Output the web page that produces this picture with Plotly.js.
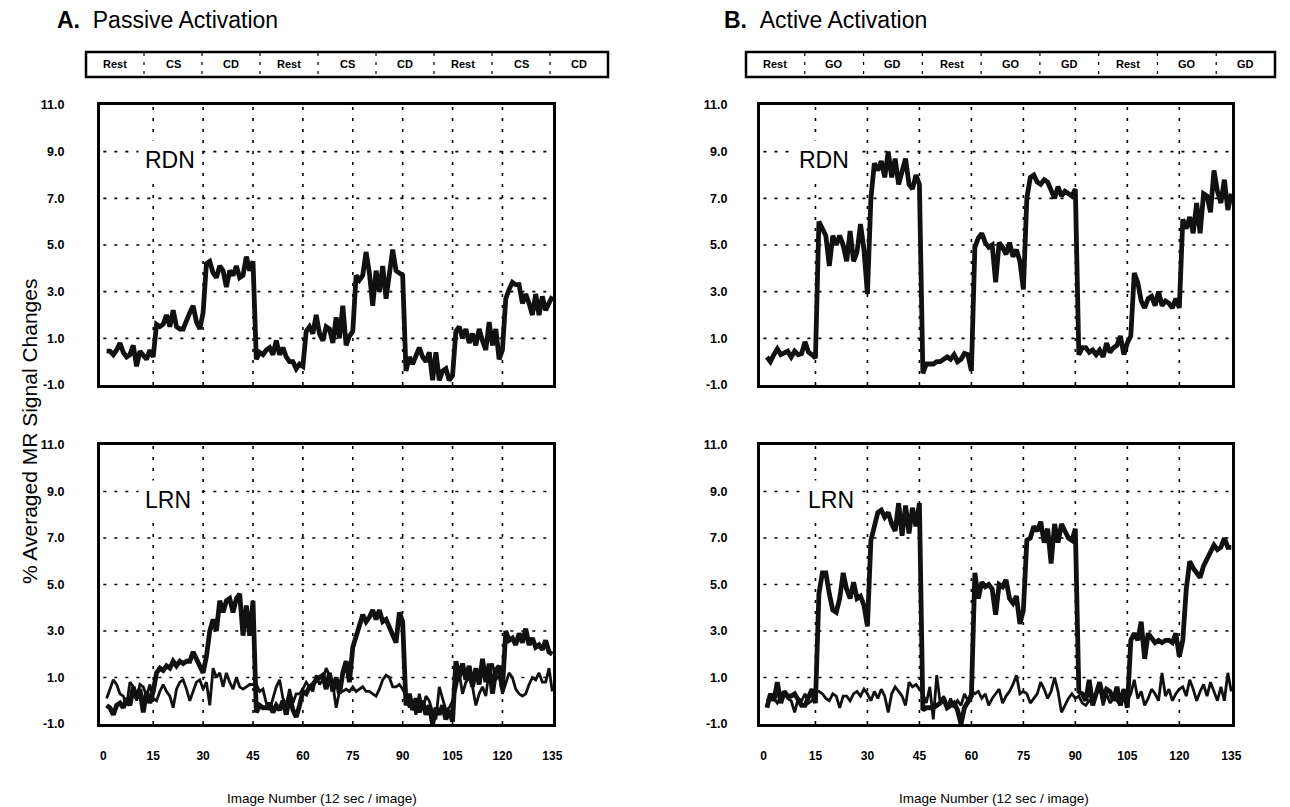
<!DOCTYPE html>
<html><head><meta charset="utf-8">
<script src="https://cdn.plot.ly/plotly-3.0.1.min.js"></script>
<style>html,body{margin:0;padding:0;background:#fff}#chart{width:1290px;height:807px}</style>
</head><body><div id="chart"></div>
<script>
// ---------- data ----------
const yTicks = [-1, 1, 3, 5, 7, 9, 11];
const yTickText = ['-1.0', '1.0', '3.0', '5.0', '7.0', '9.0', '11.0'];
const xTicks = [0, 15, 30, 45, 60, 75, 90, 105, 120, 135];
const xGrid = [15, 30, 45, 60, 75, 90, 105, 120];
const yGrid = [1, 3, 5, 7, 9];
const passiveBlocks = ['Rest', 'CS', 'CD', 'Rest', 'CS', 'CD', 'Rest', 'CS', 'CD'];
const activeBlocks = ['Rest', 'GO', 'GD', 'Rest', 'GO', 'GD', 'Rest', 'GO', 'GD'];

// Passive activation, RDN (image 1..135)
const passiveRDN = [
 0.45, 0.45, 0.3, 0.5, 0.8, 0.4, 0.2, 0.3, 0.7, -0.2, 0.45, 0.3, 0.1, 0.5, 0.2,
 1.6, 1.5, 1.6, 2.0, 1.5, 2.2, 1.5, 1.4, 1.4, 1.8, 2.1, 2.4, 1.7, 1.4, 2.1,
 4.2, 4.3, 3.8, 3.6, 4.1, 3.9, 3.2, 3.9, 3.7, 4.1, 3.6, 3.7, 4.5, 3.9, 4.3,
 0.1, 0.4, 0.3, 0.5, 0.6, 0.3, 0.9, 0.3, 0.6, 0.2, 0.0, 0.0, -0.3, -0.1, -0.2,
 1.3, 1.5, 1.2, 2.0, 1.2, 0.9, 1.5, 1.4, 0.8, 1.9, 1.0, 2.4, 0.7, 1.1, 1.3,
 3.7, 3.5, 3.7, 4.7, 3.8, 2.4, 3.9, 3.0, 4.1, 2.7, 3.6, 4.8, 3.9, 3.8, 3.7,
 -0.4, 0.2, -0.1, 0.3, 0.6, 0.2, 0.0, 0.4, -0.8, 0.4, -0.8, -0.4, -0.3, -0.8, -0.6,
 1.3, 1.5, 1.0, 1.4, 0.8, 1.2, 0.7, 1.4, 0.9, 0.5, 1.7, 0.7, 1.4, 0.1, 0.5,
 2.7, 3.1, 3.4, 3.3, 3.3, 2.5, 2.9, 2.5, 2.0, 2.9, 2.0, 2.8, 2.2, 2.5, 2.8
];
// Active activation, RDN
const activeRDN = [
 0.2, 0.0, 0.3, 0.55, 0.3, 0.4, 0.45, 0.2, 0.45, 0.3, 0.35, 0.85, 0.4, 0.3, 0.15,
 6.0, 5.7, 5.4, 4.1, 5.4, 5.0, 5.4, 5.0, 4.3, 5.6, 4.3, 4.7, 5.9, 4.8, 2.9,
 7.0, 8.5, 8.2, 8.6, 7.9, 9.0, 7.9, 8.7, 7.6, 8.1, 8.7, 7.6, 7.4, 8.0, 7.6,
 -0.5, -0.1, -0.1, -0.1, 0.0, 0.0, 0.1, 0.2, 0.1, 0.3, 0.0, 0.1, 0.35, 0.3, -0.4,
 4.9, 5.3, 5.5, 5.1, 4.9, 5.0, 3.4, 5.1, 4.9, 4.6, 5.1, 4.5, 4.8, 4.3, 3.1,
 7.0, 7.9, 8.0, 7.7, 7.6, 7.8, 7.7, 7.3, 7.0, 7.5, 7.1, 7.3, 7.2, 7.1, 7.4,
 0.3, 0.6, 0.6, 0.4, 0.5, 0.3, 0.5, 0.2, 0.8, 0.4, 0.6, 0.7, 1.1, 0.3, 0.8,
 1.1, 3.8, 3.4, 2.6, 2.3, 2.7, 2.8, 2.4, 3.0, 2.4, 2.6, 2.5, 2.3, 2.7, 2.3,
 6.1, 5.7, 6.2, 5.5, 6.8, 5.5, 7.2, 7.1, 6.4, 8.2, 7.3, 6.8, 7.8, 6.5, 7.2
];
// Passive activation, LRN (thick = activated, thin = control)
const passiveLRN = [
 -0.2, -0.3, -0.6, -0.2, -0.1, -0.3, 0.1, -0.2, 0.6, 0.1, 0.5, -0.5, 0.4, -0.1, 0.4,
 1.2, 1.4, 1.3, 1.5, 1.4, 1.7, 1.5, 1.7, 1.6, 1.7, 1.7, 2.1, 1.8, 1.5, 1.2,
 1.9, 3.0, 3.5, 3.0, 4.3, 3.8, 4.3, 4.4, 3.8, 4.4, 4.6, 2.8, 4.1, 2.8, 4.3,
 -0.5, -0.2, -0.3, -0.3, -0.1, -0.5, -0.2, -0.4, 0.0, -0.6, 0.2, -0.4, -0.7, -0.2, 0.4,
 0.3, 0.6, 0.7, 0.9, 1.0, 1.1, 0.5, 1.2, 0.4, 1.0, 0.3, 1.2, 1.7, 0.8, 2.3,
 2.8, 3.2, 3.7, 3.4, 3.6, 3.9, 3.5, 3.9, 3.4, 3.5, 3.2, 2.9, 2.5, 3.8, 3.4,
 -0.2, 0.3, -0.4, 0.1, -0.5, 0.0, -0.6, -0.2, -1.0, -0.3, -0.6, -0.2, -0.8, -0.4, -0.9,
 1.7, 1.0, 1.6, 0.9, 1.5, 0.6, 1.4, 0.7, 1.8, 0.8, 1.6, 0.3, 1.3, 1.5, 0.5,
 3.0, 2.6, 2.7, 2.4, 2.9, 2.5, 3.1, 2.4, 2.7, 2.3, 2.4, 2.2, 2.6, 2.1, 2.0
];
const passiveLRNControl = [
 0.1, 0.5, 0.9, 0.7, 0.3, 0.2, -0.2, 0.8, 0.6, 0.0, 0.7, 0.6, 0.2, 0.7, 0.1,
 0.0, 0.4, 0.7, 0.4, 0.2, -0.3, 0.5, 0.8, 0.9, 0.5, 0.0, 0.4, 0.8, 0.9, 0.5,
 0.8, -0.2, 1.4, 1.0, 1.2, 0.6, 1.2, 0.8, 0.5, 1.0, 0.6, 0.5, 0.6, 0.7, 0.7,
 0.7, 0.4, 0.5, -0.1, -0.4, 0.1, 0.6, 0.9, 0.1, -0.2, 0.5, -0.1, 0.3, 0.3, 0.5,
 0.8, 0.6, 0.4, 1.1, 0.7, 0.9, 1.4, 1.1, 0.7, -0.3, 0.4, 0.4, 0.5, 0.4, 0.6,
 0.4, 0.5, 0.6, 0.4, 0.4, 0.3, 0.2, 0.5, 0.9, 1.1, 1.0, 0.6, 0.6, 0.7, 0.5,
 0.2, -0.3, 0.0, -0.6, 0.3, -0.4, 0.2, 0.0, -0.5, -0.8, 0.6, 0.1, -0.4, -0.3, 0.0,
 0.5, 1.2, 0.3, 0.8, 1.0, 0.6, -0.2, 0.3, 0.6, 0.2, 1.3, 1.6, 0.9, 1.1, 0.3,
 0.8, 1.2, 1.0, 0.5, 0.3, 0.2, 0.3, 0.7, 1.0, 0.9, 1.2, 0.8, 0.8, 1.4, 0.4
];
// Active activation, LRN
const activeLRN = [
 -0.3, 0.3, 0.0, 0.8, -0.1, 0.4, 0.2, 0.2, 0.3, 0.0, -0.2, -0.2, 0.2, 0.5, -0.1,
 4.6, 5.5, 5.5, 4.6, 3.9, 3.8, 4.4, 5.5, 4.8, 4.4, 5.1, 4.4, 4.5, 4.1, 3.2,
 6.9, 7.6, 8.1, 8.2, 7.9, 8.1, 7.6, 7.3, 8.5, 7.1, 8.4, 7.2, 8.3, 7.5, 8.5,
 -0.4, -0.3, -0.3, -0.3, -0.2, -0.1, 0.1, -0.3, -0.2, -0.1, -0.4, -1.0, -0.3, 0.0, 0.2,
 5.5, 4.4, 5.1, 4.9, 5.0, 4.8, 3.7, 5.0, 4.9, 5.2, 4.4, 4.2, 4.5, 3.3, 3.9,
 6.9, 7.0, 7.5, 7.3, 7.7, 6.8, 7.4, 5.9, 7.6, 6.8, 7.6, 7.3, 7.0, 6.9, 7.4,
 0.4, 0.3, 0.0, 0.9, -0.2, 0.3, 0.8, 0.1, 0.5, 0.4, 0.0, 0.6, -0.2, 0.5, -0.3,
 2.6, 2.9, 2.6, 3.4, 1.8, 2.9, 2.7, 2.5, 2.6, 2.5, 2.6, 2.6, 2.5, 2.9, 1.9,
 2.6, 4.8, 6.0, 5.7, 5.5, 5.3, 5.8, 6.1, 6.4, 6.7, 6.5, 6.6, 7.0, 6.6, 6.6
];
const activeLRNControl = [
 0.0, 0.2, 0.1, -0.1, 0.2, 0.3, 0.1, 0.0, -0.5, 0.1, 0.0, 0.3, -0.1, 0.0, 0.4,
 0.4, 0.3, 0.1, 0.0, 0.3, 0.2, -0.3, 0.2, 0.2, 0.0, 0.3, 0.4, 0.2, 0.5, 0.3,
 0.0, 0.4, 0.1, 0.5, 0.2, -0.5, 0.3, 0.6, 0.4, 0.2, -0.2, 0.8, 0.6, 0.7, 0.5,
 0.3, -0.1, 0.6, -0.8, 1.1, -0.1, 0.2, -0.3, 0.1, -0.3, 0.0, -0.2, 0.3, 0.0, 0.4,
 0.3, 0.4, 0.1, 0.3, -0.2, 0.1, 0.3, 0.5, -0.1, 0.2, 0.4, 0.7, 1.1, 0.3, 0.4,
 0.3, -0.1, 0.1, 0.3, 0.8, 0.5, 0.1, 0.4, 1.0, 0.4, -0.5, -0.2, 0.1, 0.3, 0.1,
 0.2, -0.1, -0.2, 0.0, -0.1, 0.3, 0.6, -0.2, 0.3, -0.1, 0.1, 0.0, -0.2, 0.5, 0.0,
 0.3, 0.9, 0.1, 0.4, -0.2, 0.1, 0.5, 0.3, 0.0, 1.2, 0.2, 0.5, 0.0, 0.3, 0.5,
 0.6, 0.2, 0.9, 0.5, 0.0, 0.4, 0.7, 0.2, 0.8, 0.4, 0.0, 0.6, 0.0, 1.2, 0.4
];

// ---------- layout geometry (pixels) ----------
const W = 1290, H = 807;
const px = v => v / W, py = v => 1 - v / H;
const FONT = 'Liberation Sans, Arial, Helvetica, sans-serif';
const colL = [100, 553], colR = [760, 1232];
const rowT = [105, 385], rowB = [445, 724];
const condBoxes = [
  {x0: 86, x1: 608, labels: passiveBlocks},
  {x0: 746, x1: 1275, labels: activeBlocks}
];
const condY = [52, 77];

const imgIdx = arr => arr.map((_, i) => i + 1);

function line(y, ax, w) {
  return {x: imgIdx(y), y: y, xaxis: ax[0], yaxis: ax[1], type: 'scatter', mode: 'lines',
    line: {color: '#111', width: w, shape: 'linear'}, hoverinfo: 'skip', showlegend: false};
}
const data = [
  line(passiveRDN, ['x', 'y'], 4.8),
  line(activeRDN, ['x2', 'y2'], 4.8),
  line(passiveLRNControl, ['x3', 'y3'], 2.8),
  line(passiveLRN, ['x3', 'y3'], 4.8),
  line(activeLRNControl, ['x4', 'y4'], 2.8),
  line(activeLRN, ['x4', 'y4'], 4.8)
];

function xax(col, anchor, labels) {
  return {domain: [px(col[0]), px(col[1])], anchor: anchor, range: [-1, 135.2],
    tickmode: 'array', tickvals: xTicks, ticktext: xTicks.map(String),
    showticklabels: labels, ticks: 'outside', ticklen: 19, tickcolor: 'rgba(0,0,0,0)',
    tickfont: {family: FONT, size: 12, color: '#000', weight: 'bold'},
    showgrid: false, zeroline: false, showline: true, mirror: true,
    linecolor: '#000', linewidth: 3, fixedrange: true};
}
function yax(row, anchor, gap) {
  return {domain: [py(row[1]), py(row[0])], anchor: anchor, range: [-1, 11],
    tickmode: 'array', tickvals: yTicks, ticktext: yTickText,
    ticks: 'outside', ticklen: gap, tickcolor: 'rgba(0,0,0,0)',
    tickfont: {family: FONT, size: 12.5, color: '#000', weight: 'bold'},
    showgrid: false, zeroline: false, showline: true, mirror: true,
    linecolor: '#000', linewidth: 3, fixedrange: true};
}

const shapes = [];
const axPairs = [['x', 'y'], ['x2', 'y2'], ['x3', 'y3'], ['x4', 'y4']];
axPairs.forEach(([xa, ya]) => {
  xGrid.forEach(g => shapes.push({type: 'line', xref: xa, yref: ya, x0: g, x1: g, y0: -1, y1: 11,
    line: {color: '#000', width: 1.6, dash: '3px,8px'}, layer: 'below'}));
  yGrid.forEach(g => shapes.push({type: 'line', xref: xa, yref: ya, x0: 0, x1: 135, y0: g, y1: g,
    line: {color: '#000', width: 1.6, dash: '3px,8px'}, layer: 'below'}));
});

const annotations = [];
condBoxes.forEach(b => {
  shapes.push({type: 'rect', xref: 'paper', yref: 'paper', x0: px(b.x0), x1: px(b.x1),
    y0: py(condY[1]), y1: py(condY[0]), line: {color: '#000', width: 2.5}, fillcolor: 'rgba(0,0,0,0)'});
  const seg = (b.x1 - b.x0) / b.labels.length;
  b.labels.forEach((lab, i) => {
    annotations.push({xref: 'paper', yref: 'paper', x: px(b.x0 + seg * (i + 0.5)), y: py((condY[0] + condY[1]) / 2),
      text: '<b>' + lab + '</b>', showarrow: false, xanchor: 'center', yanchor: 'middle',
      font: {family: FONT, size: 11, color: '#000'}});
    if (i > 0) {
      shapes.push({type: 'line', xref: 'paper', yref: 'paper', x0: px(b.x0 + seg * i), x1: px(b.x0 + seg * i),
        y0: py(condY[1] - 3), y1: py(condY[0]), line: {color: '#000', width: 1.2, dash: '3px,6px'}});
    }
  });
});

// panel titles
annotations.push({xref: 'paper', yref: 'paper', x: px(55), y: py(20), xanchor: 'left', yanchor: 'middle',
  text: '<b>A.</b>&nbsp;&nbsp;Passive Activation', showarrow: false, font: {family: FONT, size: 23, color: '#000'}});
annotations.push({xref: 'paper', yref: 'paper', x: px(722), y: py(20), xanchor: 'left', yanchor: 'middle',
  text: '<b>B.</b>&nbsp;&nbsp;Active Activation', showarrow: false, font: {family: FONT, size: 23, color: '#000'}});

// region labels
[['x', 'y', 'RDN', 20], ['x2', 'y2', 'RDN', 17.5], ['x3', 'y3', 'LRN', 19.5], ['x4', 'y4', 'LRN', 19.5]].forEach(([xa, ya, t, xc]) => {
  annotations.push({xref: xa, yref: ya, x: xc, y: 8.65, text: t, showarrow: false,
    xanchor: 'center', yanchor: 'middle', bgcolor: '#fff', borderpad: 6,
    font: {family: FONT, size: 23, color: '#000'}});
});

// axis titles
annotations.push({xref: 'paper', yref: 'paper', x: px((colL[0] + colL[1]) / 2 - 5), y: py(798), xanchor: 'center', yanchor: 'middle',
  text: 'Image Number (12 sec / image)', showarrow: false, font: {family: FONT, size: 13.5, color: '#000'}});
annotations.push({xref: 'paper', yref: 'paper', x: px((colR[0] + colR[1]) / 2 - 2), y: py(798), xanchor: 'center', yanchor: 'middle',
  text: 'Image Number (12 sec / image)', showarrow: false, font: {family: FONT, size: 13.5, color: '#000'}});
annotations.push({xref: 'paper', yref: 'paper', x: px(30), y: py(432), xanchor: 'center', yanchor: 'middle', textangle: -90,
  text: '% Averaged MR Signal Changes', showarrow: false, font: {family: FONT, size: 21, color: '#000'}});

const layout = {
  width: W, height: H, margin: {l: 0, r: 0, t: 0, b: 0},
  paper_bgcolor: '#fff', plot_bgcolor: '#fff', showlegend: false,
  xaxis: xax(colL, 'y', false),
  yaxis: yax(rowT, 'x', 30),
  xaxis2: xax(colR, 'y2', false),
  yaxis2: yax(rowT, 'x2', 27),
  xaxis3: xax(colL, 'y3', true),
  yaxis3: yax(rowB, 'x3', 30),
  xaxis4: xax(colR, 'y4', true),
  yaxis4: yax(rowB, 'x4', 27),
  shapes: shapes, annotations: annotations
};
Plotly.newPlot('chart', data, layout, {displayModeBar: false, staticPlot: true});
</script></body></html>
